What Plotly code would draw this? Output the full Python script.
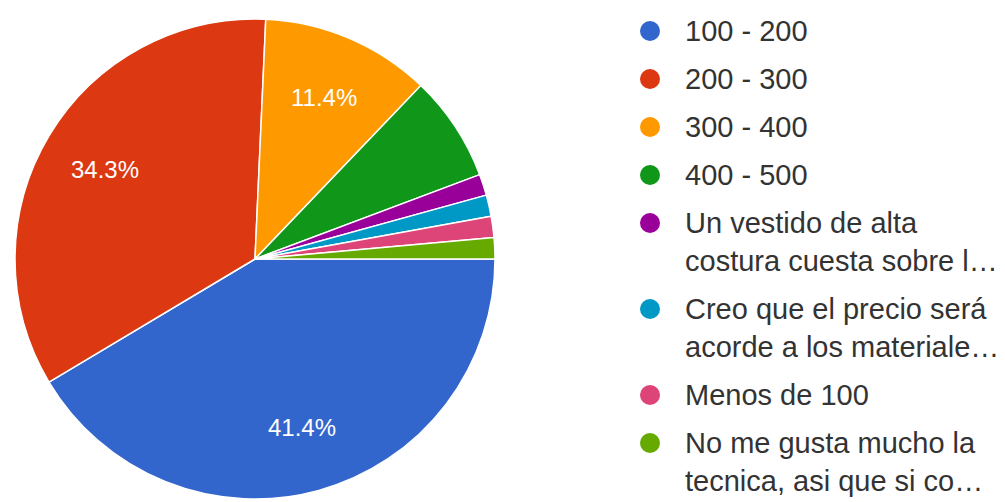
import math
import plotly.graph_objects as go

# Survey answers (70 responses) and Google-style palette
labels = [
    "100 - 200",
    "200 - 300",
    "300 - 400",
    "400 - 500",
    "Un vestido de alta\ncostura cuesta sobre l…",
    "Creo que el precio será\nacorde a los materiale…",
    "Menos de 100",
    "No me gusta mucho la\ntecnica, asi que si co…",
]
counts = [29, 24, 8, 5, 1, 1, 1, 1]
colors = ["#3366cc", "#dc3912", "#ff9900", "#109618",
          "#990099", "#0099c6", "#dd4477", "#66aa00"]

W, H = 1005, 502
FONT = "Liberation Sans, Arial, sans-serif"

# pie placement (pixels)
CX, CY, R = 255, 259, 240
dom_x = [(CX - R) / W, (CX + R) / W]
dom_y = [1 - (CY + R) / H, 1 - (CY - R) / H]

total = sum(counts)

fig = go.Figure(go.Pie(
    labels=[l.replace("\n", " ") for l in labels],
    values=counts,
    sort=False,
    direction="clockwise",
    rotation=90,
    marker=dict(colors=colors, line=dict(color="white", width=1.5)),
    textinfo="none",
    domain=dict(x=dom_x, y=dom_y),
    showlegend=False,
    hoverinfo="label+percent",
))

# Percentage labels on the larger slices, placed along each slice bisector
cum = 0
for c in counts:
    frac = c / total
    mid = (cum + frac / 2) * 2 * math.pi  # clockwise from 3 o'clock
    cum += frac
    if frac < 0.1:
        continue
    px = CX + 0.73 * R * math.cos(mid)
    py = CY + 0.73 * R * math.sin(mid)
    fig.add_annotation(
        x=px / W, y=1 - py / H, xref="paper", yref="paper",
        xanchor="center", yanchor="middle", showarrow=False,
        text=f"{frac * 100:.1f}%",
        font=dict(family=FONT, size=24, color="white"),
    )

# Legend drawn at the right: dot + wrapped label text
line_h = 38
item_gap = 10
y = 31
for lab, col in zip(labels, colors):
    lines = lab.split("\n")
    fig.add_shape(
        type="circle", xref="paper", yref="paper",
        xsizemode="pixel", ysizemode="pixel",
        xanchor=650 / W, yanchor=1 - y / H,
        x0=-10, x1=10, y0=-10, y1=10,
        fillcolor=col, line=dict(width=0),
    )
    for i, ln in enumerate(lines):
        fig.add_annotation(
            x=683 / W, y=1 - (y + i * line_h) / H,
            xref="paper", yref="paper",
            xanchor="left", yanchor="middle",
            text=ln, showarrow=False,
            font=dict(family=FONT, size=29, color="#333333"),
        )
    y += len(lines) * line_h + item_gap

fig.update_layout(
    width=W, height=H,
    margin=dict(l=0, r=0, t=0, b=0),
    paper_bgcolor="white",
    plot_bgcolor="white",
)

fig.write_html("out.html")
